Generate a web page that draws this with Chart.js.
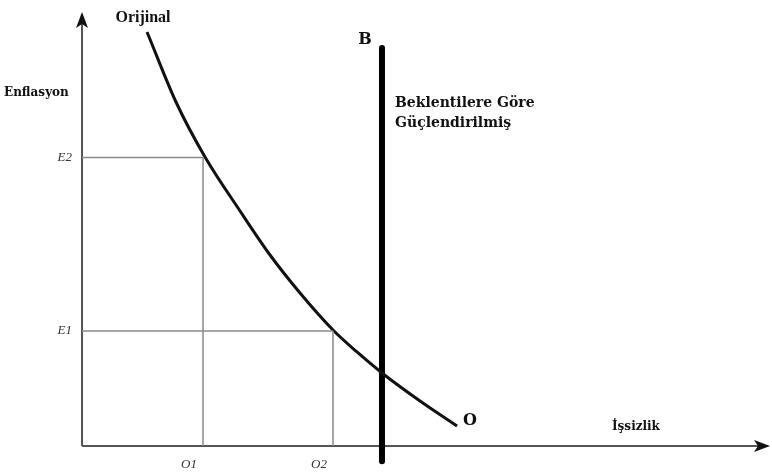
<!DOCTYPE html>
<html>
<head>
<meta charset="utf-8">
<script src="https://cdn.jsdelivr.net/npm/chart.js@4"></script>
<style>
  html, body { margin: 0; padding: 0; background: #fff; }
  #wrap { width: 772px; height: 474px; position: relative; }
</style>
</head>
<body>
<div id="wrap"><canvas id="phillips"></canvas></div>
<script>
// Original Phillips curve (unemployment on x, inflation on y)
const curveX = [9.45, 13.66, 17.88, 22.97, 27.33, 31.69, 36.48, 39.97, 43.60, 49.13, 54.51];
const curveY = [95.39, 79.26, 66.59, 54.15, 44.01, 35.25, 26.73, 21.66, 16.82, 10.37, 4.61];

// vertical long-run curve "B"
const bX = 43.6;
const bRange = [-3.5, 91.7];

// reference ticks (E2 goes with O1, E1 goes with O2)
const xTickLabels = ['O1', 'O2'];
const xTickValues = [17.59, 36.48];
const yTickLabels = ['E2', 'E1'];
const yTickValues = [66.47, 26.5];

const xAxisEnd = 100;
const yAxisEnd = 100;

const serif = '"Liberation Serif", "Times New Roman", serif';
const wideSerif = '"DejaVu Serif", serif';

// guide lines from the axes to the curve
const guides = [];
yTickValues.forEach((v, i) => {
  guides.push([{ x: 0, y: v }, { x: xTickValues[i], y: v }]);
  guides.push([{ x: xTickValues[i], y: 0 }, { x: xTickValues[i], y: v }]);
});

const guideSets = guides.map(pts => ({
  data: pts,
  borderColor: '#8a8a8a',
  borderWidth: 1.5,
  pointRadius: 0,
  fill: false
}));

const axesPlugin = {
  id: 'axesPlugin',
  beforeDatasetsDraw(chart) {
    const { ctx, scales: { x, y } } = chart;
    const x0 = x.getPixelForValue(0), y0 = y.getPixelForValue(0);
    const xe = x.getPixelForValue(xAxisEnd), ye = y.getPixelForValue(yAxisEnd);
    ctx.save();
    ctx.strokeStyle = '#555';
    ctx.fillStyle = '#111';
    ctx.lineWidth = 2;
    ctx.beginPath();
    ctx.moveTo(x0, y0); ctx.lineTo(xe - 8, y0);
    ctx.moveTo(x0, y0); ctx.lineTo(x0, ye + 8);
    ctx.stroke();
    // arrow heads
    ctx.beginPath();
    ctx.moveTo(xe, y0); ctx.lineTo(xe - 16, y0 - 6); ctx.lineTo(xe - 12, y0); ctx.lineTo(xe - 16, y0 + 6); ctx.closePath();
    ctx.fill();
    ctx.beginPath();
    ctx.moveTo(x0, ye); ctx.lineTo(x0 - 6, ye + 16); ctx.lineTo(x0, ye + 12); ctx.lineTo(x0 + 6, ye + 16); ctx.closePath();
    ctx.fill();
    ctx.restore();
  },
  afterDatasetsDraw(chart) {
    const { ctx, scales: { x, y } } = chart;
    const x0 = x.getPixelForValue(0), y0 = y.getPixelForValue(0);
    ctx.save();
    ctx.fillStyle = '#333';
    ctx.textBaseline = 'middle';
    ctx.font = 'italic 13px ' + serif;
    ctx.textAlign = 'right';
    yTickLabels.forEach((t, i) => ctx.fillText(t, x0 - 10, y.getPixelForValue(yTickValues[i])));
    ctx.textAlign = 'center';
    xTickLabels.forEach((t, i) => ctx.fillText(t, x.getPixelForValue(xTickValues[i]) - 14, y0 + 19));

    ctx.fillStyle = '#111';
    ctx.font = 'bold 16px ' + serif;
    ctx.fillText('Orijinal', 143, 18);
    ctx.font = 'bold 16px ' + wideSerif;
    ctx.fillText('B', 365, 40);
    ctx.fillText('O', 470, 421);
    ctx.textAlign = 'left';
    ctx.font = 'bold 12px ' + wideSerif;
    ctx.fillText('Enflasyon', 4, 93);
    ctx.fillText('İşsizlik', 612, 427);
    ctx.font = 'bold 14px ' + wideSerif;
    ctx.fillText('Beklentilere Göre', 395, 103);
    ctx.fillText('Güçlendirilmiş', 395, 123);
    ctx.restore();
  }
};

new Chart(document.getElementById('phillips'), {
  type: 'line',
  data: {
    datasets: [
      ...guideSets,
      {
        label: 'Orijinal',
        data: curveX.map((v, i) => ({ x: v, y: curveY[i] })),
        borderColor: '#111',
        borderWidth: 3,
        pointRadius: 0,
        cubicInterpolationMode: 'monotone',
        fill: false
      },
      {
        label: 'B',
        data: bRange.map(v => ({ x: bX, y: v })),
        borderColor: '#000',
        borderWidth: 6,
        borderCapStyle: 'round',
        pointRadius: 0,
        fill: false
      }
    ]
  },
  options: {
    responsive: true,
    maintainAspectRatio: false,
    animation: false,
    layout: { padding: 0 },
    plugins: { legend: { display: false }, tooltip: { enabled: false } },
    scales: {
      x: { type: 'linear', display: false, min: -11.92, max: 100.29 },
      y: { type: 'linear', display: false, min: -6.45, max: 102.76 }
    }
  },
  plugins: [axesPlugin]
});
</script>
</body>
</html>
